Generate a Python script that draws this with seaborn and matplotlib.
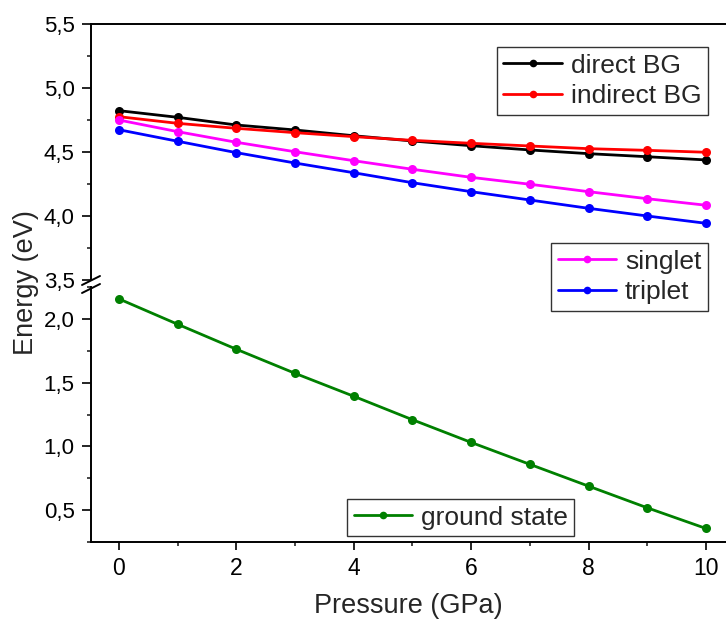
import matplotlib
matplotlib.use('Agg')
import matplotlib.pyplot as plt
import seaborn as sns
import numpy as np
import pandas as pd
from matplotlib.ticker import MultipleLocator, FuncFormatter
from matplotlib.lines import Line2D

sns.set_theme(style='ticks')
plt.rcParams['font.family'] = ['Liberation Sans', 'DejaVu Sans']

pressure = [0, 1, 2, 3, 4, 5, 6, 7, 8, 9, 10]
direct_bg = [4.823, 4.771, 4.711, 4.672, 4.627, 4.586, 4.549, 4.516, 4.487, 4.463, 4.438]
indirect_bg = [4.776, 4.724, 4.685, 4.651, 4.620, 4.591, 4.568, 4.547, 4.526, 4.513, 4.498]
singlet = [4.750, 4.659, 4.576, 4.502, 4.432, 4.365, 4.302, 4.248, 4.190, 4.135, 4.084]
triplet = [4.674, 4.584, 4.495, 4.414, 4.338, 4.260, 4.190, 4.125, 4.060, 4.000, 3.943]
ground_state = [2.157, 1.958, 1.762, 1.573, 1.393, 1.209, 1.031, 0.859, 0.688, 0.518, 0.356]

upper_series = [('direct BG', direct_bg, '#000000'),
                ('indirect BG', indirect_bg, '#ff0000'),
                ('singlet', singlet, '#ff00ff'),
                ('triplet', triplet, '#0000ff')]

W, H = 726, 621
fig = plt.figure(figsize=(W / 100, H / 100), dpi=100)


def px_rect(x0, y0, x1, y1):
    return [x0 / W, 1 - y1 / H, (x1 - x0) / W, (y1 - y0) / H]


ax_top = fig.add_axes(px_rect(90.7, 24, 726, 280))
ax_bot = fig.add_axes(px_rect(90.7, 287, 726, 542))

comma = FuncFormatter(lambda v, p: f'{v:.1f}'.replace('.', ','))

for name, vals, col in upper_series:
    sns.lineplot(x=pressure, y=vals, ax=ax_top, color=col, linewidth=2,
                 marker='o', markersize=6.5, markeredgecolor=col, markeredgewidth=0)
sns.lineplot(x=pressure, y=ground_state, ax=ax_bot, color='#008000', linewidth=2,
             marker='o', markersize=6.5, markeredgecolor='#008000', markeredgewidth=0)

xlim = (-0.48, 10.34)
for ax in (ax_top, ax_bot):
    ax.set_xlim(*xlim)
    ax.spines['right'].set_visible(False)
    for s in ax.spines.values():
        s.set_linewidth(1.4)
        s.set_color('black')
    ax.yaxis.set_major_locator(MultipleLocator(0.5))
    ax.yaxis.set_minor_locator(MultipleLocator(0.25))
    ax.yaxis.set_major_formatter(comma)
    ax.tick_params(axis='y', which='major', direction='out', length=6.5, width=1.2,
                   labelsize=16, pad=5, colors='black')
    ax.tick_params(axis='y', which='minor', direction='out', length=3, width=1.2, left=True)
    ax.set_xlabel('')
    ax.set_ylabel('')

ax_top.set_ylim(3.5, 5.5)
ax_top.spines['bottom'].set_visible(False)
ax_top.tick_params(axis='x', which='both', bottom=False, labelbottom=False)

ax_bot.set_ylim(0.25, 2.25)
ax_bot.spines['top'].set_visible(False)
ax_bot.xaxis.set_major_locator(MultipleLocator(2))
ax_bot.xaxis.set_minor_locator(MultipleLocator(1))
ax_bot.tick_params(axis='x', which='major', direction='out', length=6, width=1.2,
                   labelsize=16.5, pad=5, colors='black')
ax_bot.tick_params(axis='x', which='minor', direction='out', length=3, width=1.2, bottom=True)
ax_bot.set_xlabel('Pressure (GPa)', fontsize=19.5, labelpad=9)

fig.text(13 / W, 1 - 283 / H, 'Energy (eV)', rotation=90, fontsize=19.5,
         ha='left', va='center')

# axis break marks
for y0, y1 in [(285, 276), (293, 284)]:
    fig.add_artist(Line2D([82 / W, 100 / W], [1 - y0 / H, 1 - y1 / H],
                          transform=fig.transFigure, color='black', linewidth=1.4))


def make_handles(items):
    return [Line2D([], [], color=c, linewidth=2, marker='o', markersize=5.5,
                   markeredgewidth=0, label=n) for n, c in items]


leg_kw = dict(fontsize=19, frameon=True, fancybox=False, framealpha=1,
              edgecolor='#333333', borderpad=0.25, handlelength=2.2,
              handletextpad=0.35, labelspacing=0.25, borderaxespad=0)

leg1 = fig.legend(handles=make_handles([('direct BG', '#000000'), ('indirect BG', '#ff0000')]),
                  loc='upper right', bbox_to_anchor=(708 / W, 1 - 47 / H), **leg_kw)
leg2 = fig.legend(handles=make_handles([('singlet', '#ff00ff'), ('triplet', '#0000ff')]),
                  loc='upper right', bbox_to_anchor=(708 / W, 1 - 243 / H), **leg_kw)
leg3 = fig.legend(handles=make_handles([('ground state', '#008000')]),
                  loc='upper left', bbox_to_anchor=(347 / W, 1 - 499 / H), **leg_kw)
for lg in (leg1, leg2, leg3):
    lg.get_frame().set_linewidth(1.0)

fig.savefig('out.png', dpi=100)
